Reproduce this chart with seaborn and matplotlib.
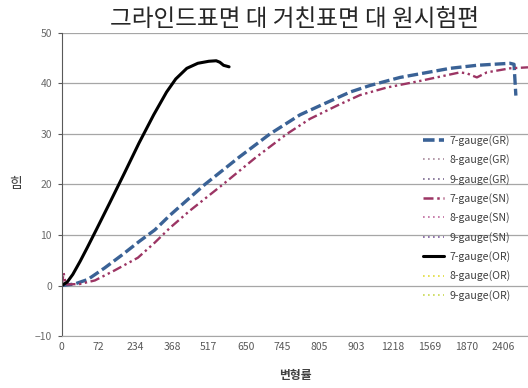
import numpy as np
import pandas as pd
import seaborn as sns
import matplotlib.pyplot as plt
from matplotlib.lines import Line2D

# x tick labels (category axis)
x_labels = ["0", "72", "234", "368", "517", "650", "745", "805", "903",
            "1218", "1569", "1870", "2406"]

# 7-gauge(GR) - positions on category axis and values
gr7_x = [0, 0.35, 0.71, 1.17, 1.63, 2.12, 2.53, 2.94, 3.89, 4.84, 5.66, 6.48,
         7.02, 7.84, 8.38, 9.2, 10.56, 11.29, 12.19, 12.3, 12.35]
gr7_y = [0, 0.3, 1.2, 3.5, 6, 8.8, 11, 13.9, 20, 25.5, 30, 33.8,
         35.6, 38.3, 39.6, 41.2, 43, 43.6, 44, 43.8, 37.6]

# 7-gauge(SN)
sn7_x = [0, 0.05, 0.11, 0.49, 0.9, 1.44, 2.07, 2.53, 2.94, 3.48, 4.38, 5.25,
         6.12, 6.75, 7.48, 8.11, 8.84, 9.74, 10.83, 11.02, 11.29, 11.56, 12.19, 12.68]
sn7_y = [0, 2.5, 0.2, 0.3, 1, 3, 5.5, 8.5, 11.4, 14.8, 20, 25.2,
         30, 33, 35.6, 37.7, 39.2, 40.5, 42.2, 42.0, 41.2, 42.2, 43, 43.2]

# 7-gauge(OR)
or7_x = [0, 0.15, 0.3, 0.5, 0.7, 0.95, 1.3, 1.7, 2.1, 2.5, 2.85, 3.1,
         3.4, 3.7, 4.0, 4.2, 4.3, 4.4, 4.55]
or7_y = [0, 0.7, 2.2, 4.8, 7.6, 11.2, 16.3, 22.2, 28.2, 33.8, 38.3, 40.9,
         43, 44, 44.4, 44.5, 44.2, 43.6, 43.3]

sns.set_style("white")
plt.rcParams['font.family'] = ['Noto Sans CJK KR', 'DejaVu Sans']

fig = plt.figure(figsize=(5.28, 3.88), dpi=100)
ax = fig.add_axes([0.117, 0.134, 0.883, 0.781])

gr7 = pd.DataFrame({"x": gr7_x, "y": gr7_y})
sn7 = pd.DataFrame({"x": sn7_x, "y": sn7_y})
or7 = pd.DataFrame({"x": or7_x, "y": or7_y})

sns.lineplot(data=gr7, x="x", y="y", sort=False, ax=ax, color="#3A6296",
             lw=2.4, linestyle=(0, (3.2, 1.2)))
sns.lineplot(data=sn7, x="x", y="y", sort=False, ax=ax, color="#9C3564",
             lw=1.7, linestyle=(0, (4, 1.5, 1, 1.5, 1, 1.5)))
sns.lineplot(data=or7, x="x", y="y", sort=False, ax=ax, color="black", lw=2.2)

ax.set_xlim(0, 12.68)
ax.set_ylim(-10, 50)
ax.set_xticks(range(len(x_labels)))
ax.set_xticklabels(x_labels)
ax.set_yticks(range(-10, 51, 10))
ax.yaxis.grid(True, color="#A6A6A6", lw=0.9)
ax.xaxis.grid(False)
for s in ["top", "right"]:
    ax.spines[s].set_visible(False)
ax.spines["left"].set_color("#595959")
ax.spines["bottom"].set_color("#A6A6A6")
ax.tick_params(axis="y", left=True, length=3, color="#595959",
               labelsize=7.5, labelcolor="#6A6A6A", pad=4)
ax.tick_params(axis="x", bottom=False, labelsize=7.5, labelcolor="#595959", pad=1)

ax.set_xlabel("변형률", fontsize=8.5, fontweight="bold", color="#404040", labelpad=12)
ax.set_ylabel("힘", fontsize=10, rotation=0, color="#404040", va="center")
ax.yaxis.set_label_coords(-0.1, 0.5)
ax.set_title("그라인드표면 대 거친표면 대 원시험편", fontsize=17, pad=5)

handles = [
    Line2D([], [], color="#3A6296", lw=2.6, linestyle=(0, (3.2, 1.2))),
    Line2D([], [], color="#A88A9C", lw=1.2, linestyle=(0, (1, 2))),
    Line2D([], [], color="#7C6A90", lw=1.2, linestyle=(0, (1, 2))),
    Line2D([], [], color="#9C3564", lw=1.8, linestyle=(0, (4, 1.5, 1, 1.5, 1, 1.5))),
    Line2D([], [], color="#C06A9E", lw=1.2, linestyle=(0, (1, 2))),
    Line2D([], [], color="#7E5E9E", lw=1.2, linestyle=(0, (1, 2))),
    Line2D([], [], color="black", lw=2.2),
    Line2D([], [], color="#E2DC3A", lw=1.2, linestyle=(0, (1, 2))),
    Line2D([], [], color="#C8D850", lw=1.2, linestyle=(0, (1, 2))),
]
labels = ["7-gauge(GR)", "8-gauge(GR)", "9-gauge(GR)",
          "7-gauge(SN)", "8-gauge(SN)", "9-gauge(SN)",
          "7-gauge(OR)", "8-gauge(OR)", "9-gauge(OR)"]
ax.legend(handles, labels, loc="center left", bbox_to_anchor=(0.755, 0.39),
          frameon=False, fontsize=7.6, handlelength=2.0, handletextpad=0.5,
          labelspacing=0.8, labelcolor="#404040")

fig.savefig("out.png", dpi=100)
